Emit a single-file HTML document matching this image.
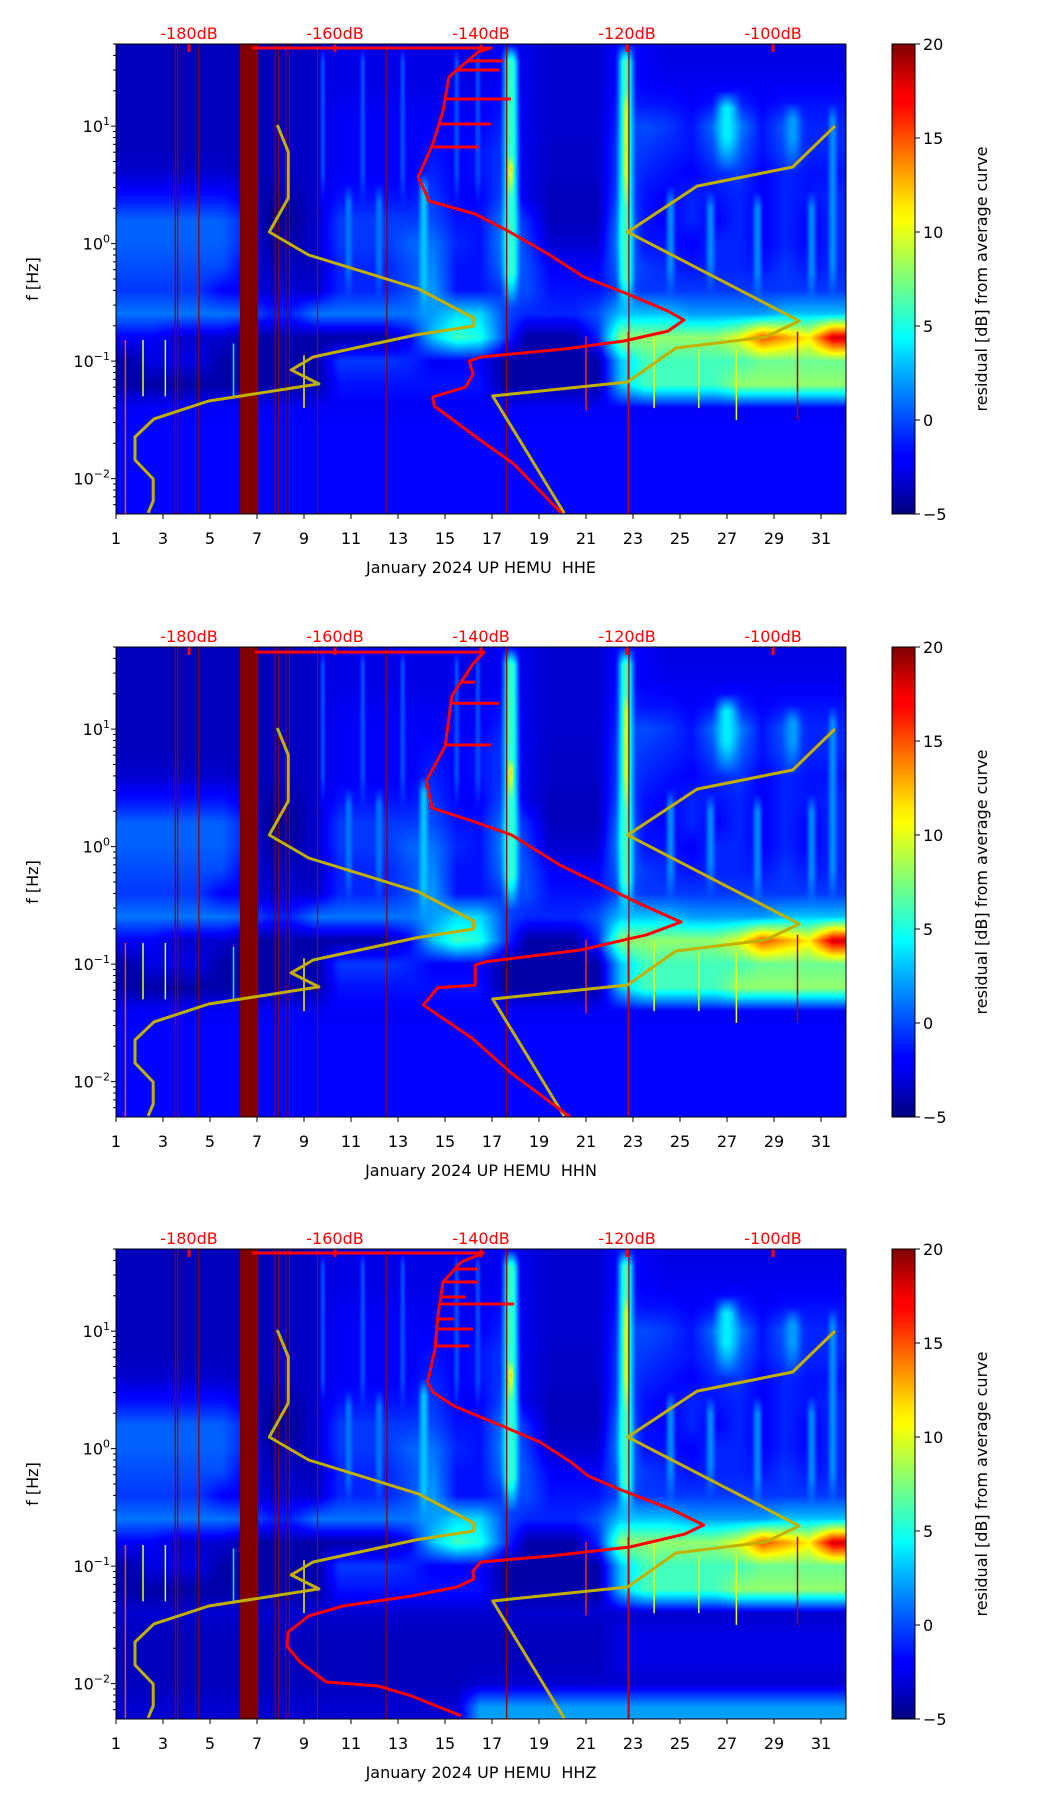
<!DOCTYPE html>
<html><head><meta charset="utf-8">
<style>
html,body{margin:0;padding:0;background:#fff;}
#wrap{position:relative;width:1052px;height:1806px;overflow:hidden;font-family:"DejaVu Sans","Liberation Sans",sans-serif;}
canvas{position:absolute;}
svg{position:absolute;left:0;top:0;}
</style></head>
<body>
<div id="wrap">
<canvas id="c0" width="730" height="470" style="left:116px;top:44px"></canvas>
<canvas id="c1" width="730" height="470" style="left:116px;top:647px"></canvas>
<canvas id="c2" width="730" height="470" style="left:116px;top:1249px"></canvas>
<svg id="ov" width="1052" height="1806" xmlns="http://www.w3.org/2000/svg">
<defs><linearGradient id="jetg" x1="0" y1="1" x2="0" y2="0">
<stop offset="0" stop-color="#00007f"/><stop offset="0.11" stop-color="#0000ff"/><stop offset="0.125" stop-color="#0000ff"/>
<stop offset="0.34" stop-color="#00d4ff"/><stop offset="0.375" stop-color="#00ffff"/><stop offset="0.5" stop-color="#7dff7a"/>
<stop offset="0.625" stop-color="#ffff00"/><stop offset="0.66" stop-color="#ffe600"/><stop offset="0.875" stop-color="#ff0000"/><stop offset="0.89" stop-color="#ff0000"/>
<stop offset="1" stop-color="#7f0000"/></linearGradient></defs>
</svg>
</div>
<script>
// ---------- data ----------
const plotTops=[44,647,1249];
const channelNames=["HHE","HHN","HHZ"];
const xTickDays=[1,3,5,7,9,11,13,15,17,19,21,23,25,27,29,31];
const dbTicks=[-180,-160,-140,-120,-100];
const dbTickLabels=["-180dB","-160dB","-140dB","-120dB","-100dB"];
const yMajorExp=[1,0,-1,-2];
const cbTicks=[-5,0,5,10,15,20];
const cbTickLabels=["\u22125","0","5","10","15","20"];
// band centres (log10 f) for heatmap rows
const bandLogf=[1.6,1.4,1.2,1.0,0.8,0.6,0.4,0.2,0.0,-0.2,-0.4,-0.6,-0.8,-1.0,-1.2,-1.4,-1.6,-1.8,-2.0,-2.2];
// run-length encoded rows [value,count,...] 31 days each
const gridRLE=[
[-3.5,8,-3,1,-2.5,7,-2,1,-2.5,1,-3,3,-1.5,1,-2,1,-2.5,8],
[-3.5,8,-3,1,-2.5,7,-2,1,-2.5,1,-3,3,-1.5,1,-2,1,-2.2,8],
[-3.5,8,-3,1,-2.2,7,-1.5,1,-2.5,1,-3,3,-1,1,-1.5,2,-2,1,-1.5,1,-1,1,-2,1,-1.5,3],
[-3.5,8,-3,1,-2,7,-1,1,-2.5,1,-3,3,-0.5,1,0,1,-0.5,1,-1.5,1,1,1,1.5,1,-1.5,1,0.5,1,-1,2],
[-3.5,8,-3,1,-2,4,-1.5,1,-2,1,-1.5,1,-0.5,1,-2.5,1,-3.2,3,0,1,-0.5,1,-1,1,-1.5,1,0,1,0.5,1,-1.5,1,0,1,-1,2],
[-3,5,-3.5,3,-3,1,-2,4,-1,1,-2,1,-1.5,1,-0.5,1,-2.5,1,-3.2,3,0,1,-1,1,-1.5,1,-2,1,-1,1,-0.5,1,-2,1,-1,1,-1.5,2],
[-1.5,5,-2.5,1,-4,2,-3,1,-1.5,4,-0.5,1,-2,2,0,1,-2.5,1,-3.5,3,0.5,1,-1.5,1,-2,1,-1,1,-1.5,1,-1,1,-2,1,-1,1,-1.5,1,-1,1],
[0.5,5,-1,1,-4.5,2,-3,1,-0.5,4,0,1,-1.5,2,1,1,-1,1,-3.5,3,1.5,1,-1.5,1,-2,1,-1,1,-2,1,-1,1,-2,1,-1,1,-2,1,-1,1],
[0.5,5,-1,1,-4,2,-3,1,-0.5,3,0.5,1,1,1,-1,1,-1.5,1,1.5,1,-0.5,1,-3,3,2,1,-1.5,2,-2,1,-1,2,-2,1,-1,1,-2,1,-1,1],
[0,5,-2,1,-3.5,3,-1,3,0,1,1.5,1,-1.5,2,1,1,0,1,-2,3,1,1,-0.5,1,-1,1,-1.5,1,-1,2,-1.5,1,-0.5,1,-1.5,1,-1,1],
[-0.5,4,-2,2,-3,3,-1,3,0,1,2,1,-1.5,2,-0.5,1,0,1,-1.5,3,0,1,-0.5,9],
[1,5,0.5,1,-1,2,1,5,2,1,3.5,2,0,1,-1,3,0,1,3,3,2,4,3,3],
[-2,2,-3,3,-4,7,-2,1,3,1,6,1,5,1,0,1,-4,3,-1,1,8,5,10,1,15,1,13,1,11,1,18,1],
[-4,1,-2.5,3,-4,5,-0.5,3,-1,1,-2,3,-4,5,3,1,6,5,7,4],
[-4,9,-1.5,7,-4,5,3,1,6,4,8,5],
[-2,31],
[-1.8,31],
[-1.8,31],
[-1.8,31],
[-1.8,31]
];
// HHZ overrides for lowest rows (index 15..19)
const hhzLowRLE=[
[-3,31],
[-3.5,21,-2.5,10],
[-3.5,21,-2.5,10],
[-3.5,15,-3,16],
[-3,15,2,16]
];
// vertical streaks
const streakDay=[17.8,22.7,14.1,27.0,29.8,24.6,26.3,28.3,30.6,31.5,10.9,12.2,17.8,22.7,9.8,11.5,13.2,15.5,16.4];
const streakWidth=[1.0,1.0,0.6,1.4,1.0,0.6,0.6,0.6,0.6,0.6,0.5,0.5,0.35,0.3,0.4,0.4,0.4,0.4,0.4];
const streakTop=[1.7,1.7,0.6,1.3,1.2,0.5,0.45,0.45,0.45,1.2,0.5,0.5,0.75,1.3,1.7,1.7,1.7,1.7,1.7];
const streakBottom=[-0.55,-0.6,-0.65,0.6,0.6,-0.5,-0.45,-0.55,-0.55,-0.5,-0.5,-0.5,0.4,0.3,0.3,0.3,0.3,0.3,0.3];
const streakValue=[6,6,3,4,2,1.5,1.5,1.5,1.5,1.5,1,1,14,10,0,0,0,0,0];
// bright narrow transients
const spikeDay=[1.4,2.15,3.1,6.0,9.0,21.0,22.8,23.9,30.0,25.8,27.4];
const spikeTop=[-0.82,-0.82,-0.82,-0.85,-0.95,-0.79,-0.75,-0.8,-0.75,-0.9,-0.9];
const spikeBottom=[-2.3,-1.3,-1.3,-1.3,-1.4,-1.42,-2.3,-1.4,-1.5,-1.4,-1.5];
const spikeValue=[15,10,9,4,11,16,18,10,19,9,10];
// thin dark-red gap lines and data gap
const gapLineDays=[3.5,3.6,4.5,7.75,7.9,8.2,8.35,9.55,12.5,17.6,22.8];
const gapStart=6.28, gapEnd=7.05;
// Peterson noise models
const nlnmDb=[-167.9,-166.4,-166.4,-169.0,-163.6,-148.5,-141.0,-141.0,-148.9,-163.0,-166.0,-162.2,-177.3,-184.8,-187.4,-187.4,-184.9,-184.9,-185.6];
const nlnmLogf=[1.010,0.780,0.388,0.099,-0.097,-0.386,-0.633,-0.701,-0.777,-0.965,-1.075,-1.194,-1.339,-1.492,-1.646,-1.841,-2.003,-2.190,-2.292];
const nhnmDb=[-91.5,-97.3,-110.4,-119.9,-96.4,-101.0,-113.3,-119.9,-138.4,-128.6];
const nhnmLogf=[1.001,0.652,0.490,0.099,-0.658,-0.795,-0.888,-1.178,-1.297,-2.293];
// mean PSD curves
const psdDb0=[-171.4,-138.6,-140.4,-144.4,-145.2,-146.6,-148.6,-147.1,-140.8,-136.3,-130.8,-125.9,-119.9,-114.4,-112.2,-114.4,-120.4,-128.6,-140.0,-141.6,-141.1,-142.1,-146.6,-146.4,-140.3,-135.5,-129.0];
const psdLogf0=[1.665,1.665,1.631,1.418,1.129,0.848,0.567,0.363,0.252,0.108,-0.088,-0.284,-0.429,-0.573,-0.650,-0.744,-0.829,-0.897,-0.965,-0.999,-1.110,-1.220,-1.305,-1.382,-1.663,-1.875,-2.292];
const psdDb1=[-171.0,-139.6,-141.2,-144.0,-144.9,-147.5,-146.7,-141.2,-135.8,-129.2,-118.1,-112.6,-117.3,-126.4,-139.4,-140.8,-140.8,-145.9,-147.9,-141.2,-135.8,-127.8];
const psdLogf1=[1.656,1.656,1.546,1.28,0.857,0.558,0.33,0.218,0.099,-0.156,-0.49,-0.641,-0.75,-0.88,-0.98,-1.007,-1.18,-1.20,-1.348,-1.63,-1.93,-2.30];
const psdDb2=[-171.4,-139.7,-142.7,-145.2,-145.9,-146.3,-147.3,-146.6,-143.7,-137.1,-131.9,-127.7,-125.3,-121.1,-114.0,-109.5,-112.1,-119.6,-130.5,-140.0,-141.1,-141.0,-143.3,-149.5,-158.9,-163.6,-166.4,-166.6,-164.8,-161.2,-154.1,-149.5,-142.7];
const psdLogf2=[1.665,1.665,1.588,1.418,1.129,0.848,0.567,0.482,0.363,0.193,0.056,-0.114,-0.233,-0.344,-0.514,-0.650,-0.727,-0.837,-0.914,-0.965,-1.041,-1.110,-1.178,-1.254,-1.339,-1.424,-1.561,-1.680,-1.816,-1.986,-2.020,-2.105,-2.275];
const psdSpikeLogf0=[1.555,1.478,1.231,1.018,0.822];
const psdSpikeDb0=[-137.0,-137.5,-135.9,-138.6,-140.3];
const psdSpikeLogf1=[1.40,1.22,0.865];
const psdSpikeDb1=[-140.8,-137.5,-138.6];
const psdSpikeLogf2=[1.529,1.418,1.29,1.231,1.103,1.018,0.874];
const psdSpikeDb2=[-140.4,-140.4,-142.1,-135.5,-143.7,-141.1,-141.6];

// ---------- scales ----------
const X0=116, PW=730, PH=470, DAY0=1, DAYPX=23.5, LOGTOP=1.699, DECPX=117.5;
const xDay=d=>X0+(d-DAY0)*DAYPX;
const xDb=db=>X0+(db+190)*7.3;
const yLog=(T,l)=>T+(LOGTOP-l)*DECPX;
const cbX=892, cbW=23;
const yCb=(T,v)=>T+(20-v)/25*PH;

function decode(r){const o=[];for(let i=0;i<r.length;i+=2)for(let k=0;k<r[i+1];k++)o.push(r[i]);return o;}
function jet(v){let t=(v+5)/25;t=Math.max(0,Math.min(1,t));const f=x=>Math.max(0,Math.min(1,x));
 return [f(1.5-Math.abs(4*t-3)),f(1.5-Math.abs(4*t-2)),f(1.5-Math.abs(4*t-1))].map(c=>Math.round(c*255));}
const jetCss=v=>{const c=jet(v);return `rgb(${c[0]},${c[1]},${c[2]})`;};

function drawHeat(idx){
 const grid=gridRLE.map(decode);
 if(idx===2){for(let i=0;i<5;i++)grid[15+i]=decode(hhzLowRLE[i]);}
 const cv=document.getElementById('c'+idx),ctx=cv.getContext('2d');
 const img=ctx.createImageData(PW,PH),d=img.data;
 for(let py=0;py<PH;py++){
  const lf=LOGTOP-(py+0.5)/DECPX;
  let rf=(bandLogf[0]-lf)/0.2;rf=Math.max(0,Math.min(bandLogf.length-1,rf));
  const r0=Math.floor(rf),r1=Math.min(r0+1,bandLogf.length-1),fr=rf-r0;
  for(let px=0;px<PW;px++){
   const day=DAY0+(px+0.5)/DAYPX;
   let cf=day-1.5;cf=Math.max(0,Math.min(30,cf));
   const c0=Math.floor(cf),c1=Math.min(c0+1,30),fc=cf-c0;
   let v=(grid[r0][c0]*(1-fc)+grid[r0][c1]*fc)*(1-fr)+(grid[r1][c0]*(1-fc)+grid[r1][c1]*fc)*fr;
   for(let s=0;s<streakDay.length;s++){
    const dx=Math.abs(day-streakDay[s])/(streakWidth[s]/2);
    if(dx<1&&lf<=streakTop[s]&&lf>=streakBottom[s]){
     const h=0.5+0.5*Math.cos(Math.PI*dx);const tp=Math.min(1,(streakTop[s]-lf)/0.15,(lf-streakBottom[s])/0.3);
     const w=h*tp;if(streakValue[s]>v)v=v+(streakValue[s]-v)*w;}
   }
   const c=jet(v),k=(py*PW+px)*4;d[k]=c[0];d[k+1]=c[1];d[k+2]=c[2];d[k+3]=255;
  }
 }
 ctx.putImageData(img,0,0);
}

const NS='http://www.w3.org/2000/svg';
const svg=document.getElementById('ov');
function el(tag,attrs,parent){const e=document.createElementNS(NS,tag);for(const k in attrs)e.setAttribute(k,attrs[k]);(parent||svg).appendChild(e);return e;}

function curvePath(T,dbs,lfs){return dbs.map((db,i)=>(i?'L':'M')+xDb(db).toFixed(1)+','+yLog(T,lfs[i]).toFixed(1)).join('');}
function curveXAt(dbs,lfs,l){for(let i=2;i<lfs.length;i++){const a=lfs[i-1],b=lfs[i];if((a>=l&&b<=l)||(a<=l&&b>=l)){const t=(l-a)/((b-a)||1);return dbs[i-1]+(dbs[i]-dbs[i-1])*t;}}return dbs[1];}

const psdDbs=[psdDb0,psdDb1,psdDb2], psdLfs=[psdLogf0,psdLogf1,psdLogf2];
const spLfs=[psdSpikeLogf0,psdSpikeLogf1,psdSpikeLogf2], spDbs=[psdSpikeDb0,psdSpikeDb1,psdSpikeDb2];

for(let p=0;p<3;p++){
 drawHeat(p);
 const T=plotTops[p], B=T+PH;
 const g=el('g',{});
 
 
 const clipId='clip'+p;
 const cp=el('clipPath',{id:clipId},g);el('rect',{x:X0,y:T,width:PW,height:PH},cp);
 const inner=el('g',{'clip-path':`url(#${clipId})`},g);
 const gb=el('rect',{x:xDay(gapStart),y:T,width:xDay(gapEnd)-xDay(gapStart),height:PH,fill:'#800000'},inner);
 
 
 gapLineDays.forEach(dd=>{const l=el('rect',{x:xDay(dd),y:T,width:1.2,height:PH,fill:'#8a0000'},inner);
  
  });
 spikeDay.forEach((dd,i)=>{const l=el('line',{x1:xDay(dd),x2:xDay(dd),y1:yLog(T,spikeTop[i]),y2:yLog(T,spikeBottom[i]),stroke:jetCss(spikeValue[i]),'stroke-width':1.5},inner);
  
  });
 const lo=el('path',{d:curvePath(T,nlnmDb,nlnmLogf),fill:'none',stroke:'#c2b000','stroke-width':3,'stroke-linejoin':'round'},inner);
 
 
 const hi=el('path',{d:curvePath(T,nhnmDb,nhnmLogf),fill:'none',stroke:'#c2b000','stroke-width':3,'stroke-linejoin':'round'},inner);
 
 
 const pc=el('path',{d:curvePath(T,psdDbs[p],psdLfs[p]),fill:'none',stroke:'#ff0000','stroke-width':3,'stroke-linejoin':'round'},inner);
 
 
 spLfs[p].forEach((l,i)=>{const x0=xDb(curveXAt(psdDbs[p],psdLfs[p],l));const s=el('line',{x1:x0,x2:xDb(spDbs[p][i]),y1:yLog(T,l),y2:yLog(T,l),stroke:'#ff0000','stroke-width':3},inner);
  
  });
 dbTicks.forEach((db,i)=>{const t=el('rect',{x:xDb(db)-1.5,y:T,width:3,height:8,fill:'#ff0000'},g);
  
  
  const tx=el('text',{x:xDb(db),y:T-5,'text-anchor':'middle','font-size':16,fill:'#ff0000'},g);tx.textContent=dbTickLabels[i];
  
  });
 const fr=el('rect',{x:X0,y:T,width:PW,height:PH,fill:'none',stroke:'#000','stroke-width':1},g);
 
 
 xTickDays.forEach(dd=>{el('line',{x1:xDay(dd),x2:xDay(dd),y1:B,y2:B+5,stroke:'#000'},g);
  const t=el('text',{x:xDay(dd),y:B+30,'text-anchor':'middle','font-size':16,fill:'#000'},g);t.textContent=dd;
  
  });
 const xl=el('text',{x:481,y:B+59,'text-anchor':'middle','font-size':16,fill:'#000',style:'white-space:pre'},g);
 xl.textContent='January 2024 UP HEMU  '+channelNames[p];
 
 
 for(let e=-3;e<=1;e++)for(let k=1;k<10;k++){const l=e+Math.log10(k);if(l<-2.301||l>LOGTOP)continue;
  const y=yLog(T,l);el('line',{x1:X0,x2:X0-(k===1?5:3),y1:y,y2:y,stroke:'#000'},g);}
 yMajorExp.forEach(e=>{const t=el('text',{x:110,y:yLog(T,e)+6,'text-anchor':'end','font-size':16,fill:'#000'},g);
  
  
  const a=el('tspan',{},t);a.textContent='10';
  const b=el('tspan',{dy:-7,'font-size':11},t);b.textContent=(e<0?'\u2212':'')+Math.abs(e);});
 const yl=el('text',{x:0,y:0,transform:`translate(38,${T+PH/2}) rotate(-90)`,'text-anchor':'middle','font-size':16,fill:'#000'},g);
 yl.textContent='f [Hz]';
 
 
 const cb=el('rect',{x:cbX,y:T,width:cbW,height:PH,fill:'url(#jetg)',stroke:'#000','stroke-width':1},g);
 
 
 cbTicks.forEach((v,i)=>{const y=yCb(T,v);el('line',{x1:cbX+cbW,x2:cbX+cbW+5,y1:y,y2:y,stroke:'#000'},g);
  const t=el('text',{x:cbX+cbW+8,y:y+6,'font-size':16,fill:'#000'},g);t.textContent=cbTickLabels[i];
  
  });
 const cl=el('text',{x:0,y:0,transform:`translate(987,${T+PH/2}) rotate(-90)`,'text-anchor':'middle','font-size':16,fill:'#000'},g);
 cl.textContent='residual [dB] from average curve';
 
 
}
</script>
</body></html>
